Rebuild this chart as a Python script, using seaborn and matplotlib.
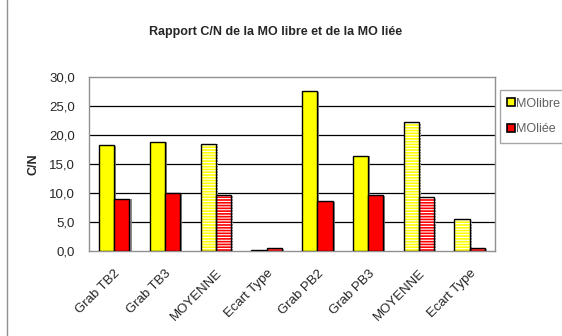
import matplotlib
matplotlib.use("Agg")
import matplotlib.pyplot as plt
import matplotlib.patheffects as pe
from matplotlib.lines import Line2D
from matplotlib.patches import Patch, Rectangle
import seaborn as sns
import pandas as pd

categories = ["Grab TB2", "Grab TB3", "MOYENNE", "Ecart Type",
              "Grab PB2", "Grab PB3", "MOYENNE", "Ecart Type"]
mo_libre = [18.2, 18.8, 18.5, 0.1, 27.6, 16.4, 22.2, 5.5]
mo_liee = [9.0, 9.9, 9.6, 0.4, 8.6, 9.6, 9.2, 0.4]
series_names = ["MOlibre", "MOliée"]
series_colors = ["#FFFF00", "#FF0000"]
striped = [2, 3, 6, 7]
y_ticks = [0, 5, 10, 15, 20, 25, 30]
y_tick_labels = ["0,0", "5,0", "10,0", "15,0", "20,0", "25,0", "30,0"]

df = pd.DataFrame({
    "pos": list(range(len(categories))) * 2,
    "value": mo_libre + mo_liee,
    "serie": [series_names[0]] * len(categories) + [series_names[1]] * len(categories),
})

sns.set_style("white")
plt.rcParams["font.family"] = ["Liberation Sans", "DejaVu Sans"]
plt.rcParams["hatch.linewidth"] = 0.8

fig = plt.figure(figsize=(5.62, 3.36), dpi=100)
ax = fig.add_axes([0.158, 0.254, 0.723, 0.517])

sns.barplot(data=df, x="pos", y="value", hue="serie", palette=series_colors,
            width=0.6, edgecolor="black", linewidth=1.0, saturation=1,
            legend=False, ax=ax, zorder=3)

shadow = [pe.SimplePatchShadow(offset=(1.5, -0.5), shadow_rgbFace="#808080", alpha=0.9),
          pe.Normal()]
for container in ax.containers:
    for i, bar in enumerate(container):
        bar.set_path_effects(shadow)
        if i in striped:
            # white horizontal stripes: hatch follows the edge colour,
            # so the black outline is redrawn on top of the striped bar
            bar.set_hatch("------")
            bar.set_edgecolor("white")
            bar.set_linewidth(0)
            ax.add_patch(Rectangle((bar.get_x(), bar.get_y()), bar.get_width(),
                                   bar.get_height(), fill=False, edgecolor="black",
                                   linewidth=1.0, zorder=4))

ax.set_ylim(0, 30)
ax.set_xlim(-0.5, len(categories) - 0.5)
ax.set_yticks(y_ticks)
ax.set_yticklabels(y_tick_labels, fontsize=9.5)
for y in y_ticks[1:-1]:
    ax.axhline(y, color="black", linewidth=0.9, zorder=1)

ax.set_xticks(range(len(categories)))
ax.set_xticklabels(categories, rotation=45, ha="right", rotation_mode="anchor", fontsize=9.5)
ax.set_xticks([i - 0.5 for i in range(len(categories) + 1)], minor=True)
ax.tick_params(axis="x", which="major", length=0, pad=12)
ax.tick_params(axis="x", which="minor", length=4, color="#808080", width=1, direction="out")
ax.tick_params(axis="y", length=0, pad=10)

ax.set_xlabel("")
ax.set_ylabel("C/N", fontsize=9, fontweight="bold", labelpad=7)

for side in ["top", "right", "left", "bottom"]:
    ax.spines[side].set_visible(True)
    ax.spines[side].set_color("#909090")
    ax.spines[side].set_linewidth(1.0)

handles = [Patch(facecolor=c, edgecolor="black", linewidth=1.2) for c in series_colors]
leg = fig.legend(handles, series_names, loc="upper left", bbox_to_anchor=(0.889, 0.732),
                 frameon=True, fancybox=False, handlelength=0.6, handleheight=0.6,
                 handletextpad=0.15, labelspacing=1.1, borderpad=0.6, borderaxespad=0,
                 fontsize=9, labelcolor="#606060")
leg.get_frame().set_edgecolor("#909090")
leg.get_frame().set_linewidth(1.0)

fig.text(0.49, 0.905, "Rapport C/N de la MO libre et de la MO liée",
         ha="center", va="center", fontsize=9, fontweight="bold")

fig.add_artist(Line2D([0.012, 0.012], [0.0, 1.0], color="#909090", linewidth=1.0))

fig.savefig("out.png", dpi=100)
